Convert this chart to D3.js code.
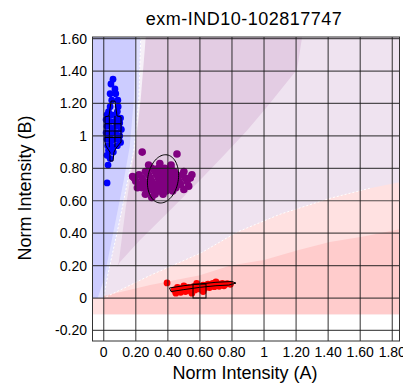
<!DOCTYPE html>
<html>
<head>
<meta charset="utf-8">
<script src="https://cdn.jsdelivr.net/npm/d3@7"></script>
<style>
  body { margin: 0; background: #fff; }
  svg { display: block; font-family: "Liberation Sans", Arial, sans-serif; }
</style>
</head>
<body>
<div id="chart"></div>
<script>
// chart values
const chartTitle = "exm-IND10-102817747";
const xLabel = "Norm Intensity (A)";
const yLabel = "Norm Intensity (B)";
const xTicks = [0, 0.2, 0.4, 0.6, 0.8, 1, 1.2, 1.4, 1.6, 1.8];
const yTicks = [-0.2, 0, 0.2, 0.4, 0.6, 0.8, 1, 1.2, 1.4, 1.6];

// B/B cluster (blue)
const bbPoints = [
  [0.058, 1.35], [0.045, 1.32], [0.07, 1.29], [0.04, 1.26], [0.075, 1.26], [0.05, 1.22],
  [0.088, 1.22], [0.04, 1.18], [0.09, 1.18], [0.03, 1.15], [0.085, 1.15],
  [0.02, 1.13], [0.05, 1.13], [0.08, 1.12], [0.105, 1.11],
  [0.015, 1.1], [0.04, 1.09], [0.07, 1.09], [0.1, 1.08],
  [0.02, 1.06], [0.05, 1.05], [0.08, 1.06], [0.11, 1.04],
  [0.015, 1.02], [0.045, 1.01], [0.075, 1.02], [0.1, 1.0],
  [0.02, 0.98], [0.05, 0.97], [0.08, 0.98], [0.105, 0.96],
  [0.025, 0.94], [0.055, 0.93], [0.085, 0.94],
  [0.03, 0.91], [0.06, 0.9], [0.02, 0.88], [0.04, 0.86],
  [0.027, 0.82], [0.021, 0.71]
];
// A/B cluster (purple)
const abPoints = [
  [0.3, 0.8], [0.34, 0.8], [0.38, 0.8], [0.42, 0.8],
  [0.26, 0.78], [0.32, 0.78], [0.36, 0.78], [0.4, 0.78], [0.44, 0.78],
  [0.22, 0.76], [0.28, 0.76], [0.33, 0.76], [0.37, 0.76], [0.41, 0.76], [0.45, 0.76], [0.49, 0.76],
  [0.19, 0.74], [0.24, 0.74], [0.29, 0.74], [0.34, 0.74], [0.38, 0.74], [0.42, 0.74], [0.46, 0.74], [0.51, 0.74], [0.54, 0.74],
  [0.2, 0.72], [0.25, 0.72], [0.3, 0.72], [0.35, 0.72], [0.39, 0.72], [0.43, 0.72], [0.47, 0.72], [0.52, 0.72],
  [0.23, 0.7], [0.27, 0.7], [0.32, 0.7], [0.36, 0.7], [0.4, 0.7], [0.44, 0.7], [0.48, 0.7],
  [0.24, 0.68], [0.29, 0.68], [0.33, 0.68], [0.37, 0.68], [0.41, 0.68], [0.45, 0.68],
  [0.27, 0.66], [0.31, 0.66], [0.35, 0.66], [0.39, 0.66], [0.43, 0.66],
  [0.26, 0.64], [0.32, 0.64], [0.37, 0.64], [0.3, 0.62],
  [0.24, 0.9], [0.457, 0.888], [0.5, 0.78], [0.53, 0.69], [0.21, 0.68], [0.55, 0.76],
  [0.18, 0.75], [0.35, 0.83], [0.28, 0.82], [0.42, 0.82], [0.5, 0.67]
];
// A/A cluster (red)
const aaPoints = [
  [0.395, 0.093],
  [0.44, 0.05], [0.45, 0.03], [0.47, 0.06], [0.48, 0.035], [0.5, 0.055], [0.51, 0.04],
  [0.53, 0.065], [0.54, 0.045], [0.56, 0.07], [0.57, 0.05], [0.59, 0.075], [0.6, 0.055],
  [0.62, 0.08], [0.63, 0.06], [0.65, 0.085], [0.66, 0.065], [0.68, 0.09], [0.69, 0.07],
  [0.71, 0.088], [0.72, 0.072], [0.74, 0.09], [0.75, 0.075], [0.77, 0.088], [0.79, 0.085],
  [0.5, 0.075], [0.58, 0.09], [0.46, 0.065], [0.7, 0.1], [0.62, 0.04], [0.55, 0.03]
];

// cluster outlines
const bbOutline = [
  [0.046, 1.215], [0.07, 1.215], [0.083, 1.123], [0.108, 1.117], [0.108, 0.962], [0.077, 0.925],
  [0.064, 0.9], [0.058, 0.845], [0.039, 0.845], [0.039, 0.9], [0.014, 0.938], [0.008, 0.962],
  [0.008, 1.117], [0.033, 1.123]
];
const bbHatchY = [1.075, 1.03, 0.99];
const bbHatchX = [0.035, 0.07];
const abEllipse = { cx: 0.37, cy: 0.735, ux: 0.025, uy: 0.148, vx: 0.094, vy: -0.015 };
const aaOutline = [
  [0.41, 0.062], [0.5, 0.076], [0.6, 0.087], [0.7, 0.097], [0.8, 0.102], [0.825, 0.092],
  [0.78, 0.08], [0.7, 0.076], [0.6, 0.066], [0.5, 0.052], [0.42, 0.04]
];
const aaBox = { x0: 0.557, x1: 0.638, y0: 0.0, y1: 0.086 };

// background call regions
const xMin = -0.07, xMax = 1.845, yMin = -0.265, yMax = 1.61;
const pinkLightEdge = [[1.66, 0.677], [1.41, 0.615], [1.1, 0.517], [0.83, 0.406], [0.61, 0.28], [0.29, 0.14], [0, 0]];
const pinkDarkEdge = [[1.62, 0.38], [1.41, 0.345], [1.21, 0.295], [1.0, 0.234], [0.79, 0.2], [0.6, 0.14], [0.29, 0.08], [0, 0.012]];
const blueLightEdge = [[0.231, yMax], [0.219, 1.218], [0.1875, 0.91], [0.1, 0.48], [0.025, 0.14], [0, 0]];
const blueDarkEdge = [[0.2, yMax], [0.1875, 1.218], [0.1625, 0.935], [0.125, 0.726], [0.0625, 0.418], [0, 0.11], [-0.0375, 0]];
const paleStripEdge = [[0.262, yMax], [0.245, 1.218], [0.21, 0.91]];
const purpleLeftEdge = [[0.2625, yMax], [0.23, 1.218], [0.194, 0.91], [0.1375, 0.56], [0.094, 0.22], [0.08, 0.185]];
const purpleRightEdge = [[0.1, 0.22], [0.225, 0.357], [0.4125, 0.54], [0.6, 0.726], [0.744, 0.874], [0.894, 1.034], [1.019, 1.18], [1.206, 1.409], [1.2375, yMax]];

const width = 403, height = 384;
const margin = { left: 92.5, right: 3.5, top: 37, bottom: 43 };

const svg = d3.select("#chart").append("svg")
  .attr("width", width)
  .attr("height", height);

const x = d3.scaleLinear().domain([xMin, xMax]).range([margin.left, width - margin.right]);
const y = d3.scaleLinear().domain([yMin, yMax]).range([height - margin.bottom, margin.top]);

const poly = d3.line().x(d => x(d[0])).y(d => y(d[1]));
const area = pts => poly(pts) + "Z";

svg.append("defs").append("clipPath").attr("id", "plotclip")
  .append("rect")
  .attr("x", x(xMin)).attr("y", y(yMax))
  .attr("width", x(xMax) - x(xMin)).attr("height", y(yMin) - y(yMax));

const plot = svg.append("g").attr("clip-path", "url(#plotclip)");

// backgrounds
plot.append("rect")
  .attr("x", x(xMin)).attr("y", y(yMax))
  .attr("width", x(xMax) - x(xMin)).attr("height", y(yMin) - y(yMax))
  .attr("fill", "#ffffff");
plot.append("path")
  .attr("d", area([[xMin, -0.1], [xMax, -0.1], [xMax, yMax], [xMin, yMax]]))
  .attr("fill", "#efe3f0");
plot.append("path")
  .attr("d", area([[xMin, -0.1], [xMax, -0.1], [xMax, 0.714], ...pinkLightEdge, [xMin, 0]]))
  .attr("fill", "#ffe1e1");
plot.append("path")
  .attr("d", area([[0, -0.1], [xMax, -0.1], [xMax, 0.425], ...pinkDarkEdge, [0, 0]]))
  .attr("fill", "#ffcccc");
plot.append("path")
  .attr("d", area([...paleStripEdge, ...blueLightEdge.slice(0, 3).reverse()]))
  .attr("fill", "#f6f0f8");
plot.append("path")
  .attr("d", area([[xMin, yMax], ...blueLightEdge, [xMin, 0]]))
  .attr("fill", "#e0e0ff");
plot.append("path")
  .attr("d", area([[xMin, yMax], ...blueDarkEdge, [xMin, 0]]))
  .attr("fill", "#ccccff");
plot.append("path")
  .attr("d", area([...purpleLeftEdge, ...purpleRightEdge]))
  .attr("fill", "#e3cce3");

// dashed boundaries
[pinkLightEdge, blueLightEdge].forEach(edge => {
  plot.append("path")
    .attr("d", poly(edge))
    .attr("fill", "none")
    .attr("stroke", "#ffffff")
    .attr("stroke-width", 1)
    .attr("stroke-dasharray", "2,2");
});

// points
const drawPoints = (pts, color, r) => {
  plot.append("g").selectAll("circle")
    .data(pts)
    .join("circle")
    .attr("cx", d => x(d[0]))
    .attr("cy", d => y(d[1]))
    .attr("r", r)
    .attr("fill", color);
};
drawPoints(bbPoints, "#0000ff", 3.4);
drawPoints(abPoints, "#800080", 3.8);
drawPoints(aaPoints, "#ff0000", 3.4);

// cluster outlines
plot.append("path").attr("d", area(bbOutline))
  .attr("fill", "none").attr("stroke", "#000").attr("stroke-width", 1);
bbHatchY.forEach(v => {
  plot.append("line")
    .attr("x1", x(0.008)).attr("x2", x(0.108))
    .attr("y1", y(v)).attr("y2", y(v))
    .attr("stroke", "#000").attr("stroke-width", 1);
});
bbHatchX.forEach(v => {
  plot.append("line")
    .attr("x1", x(v)).attr("x2", x(v))
    .attr("y1", y(1.123)).attr("y2", y(0.93))
    .attr("stroke", "#000").attr("stroke-width", 1);
});

const e = abEllipse;
const ellipsePts = d3.range(0, 2 * Math.PI + 0.01, Math.PI / 40).map(t => [
  e.cx + e.ux * Math.sin(t) + e.vx * Math.cos(t),
  e.cy + e.uy * Math.sin(t) + e.vy * Math.cos(t)
]);
plot.append("path").attr("d", area(ellipsePts))
  .attr("fill", "none").attr("stroke", "#000").attr("stroke-width", 1);

plot.append("path").attr("d", area(aaOutline))
  .attr("fill", "none").attr("stroke", "#000").attr("stroke-width", 1);
plot.append("rect")
  .attr("x", x(aaBox.x0)).attr("y", y(aaBox.y1))
  .attr("width", x(aaBox.x1) - x(aaBox.x0)).attr("height", y(aaBox.y0) - y(aaBox.y1))
  .attr("fill", "none").attr("stroke", "#000").attr("stroke-width", 1);

// grid
const grid = plot.append("g").attr("stroke", "#1a1a1a").attr("stroke-opacity", 0.75).attr("stroke-width", 1.2);
grid.selectAll(".vx").data(xTicks).join("line")
  .attr("x1", d => x(d)).attr("x2", d => x(d))
  .attr("y1", y(yMin)).attr("y2", y(yMax));
grid.selectAll(".hy").data(yTicks).join("line")
  .attr("x1", x(xMin)).attr("x2", x(xMax))
  .attr("y1", d => y(d)).attr("y2", d => y(d));

// border
svg.append("rect")
  .attr("x", x(xMin)).attr("y", y(yMax))
  .attr("width", x(xMax) - x(xMin)).attr("height", y(yMin) - y(yMax))
  .attr("fill", "none").attr("stroke", "#333").attr("stroke-width", 1);

// tick labels
const fmt = v => (v === 0 || v === 1) ? String(v) : v.toFixed(2);
svg.append("g").selectAll("text").data(xTicks).join("text")
  .attr("x", d => x(d)).attr("y", 357)
  .attr("text-anchor", "middle")
  .attr("font-size", 14)
  .attr("fill", "#000")
  .text(fmt);
svg.append("g").selectAll("text").data(yTicks).join("text")
  .attr("x", 87).attr("y", d => y(d) + 5)
  .attr("text-anchor", "end")
  .attr("font-size", 14)
  .attr("fill", "#000")
  .text(fmt);

// titles
svg.append("text")
  .attr("x", 244).attr("y", 24.5)
  .attr("text-anchor", "middle")
  .attr("font-size", 18)
  .attr("letter-spacing", 0.5)
  .text(chartTitle);
svg.append("text")
  .attr("x", 245).attr("y", 379)
  .attr("text-anchor", "middle")
  .attr("font-size", 18)
  .text(xLabel);
svg.append("text")
  .attr("transform", "translate(31,188) rotate(-90)")
  .attr("text-anchor", "middle")
  .attr("font-size", 18)
  .text(yLabel);
</script>
</body>
</html>
